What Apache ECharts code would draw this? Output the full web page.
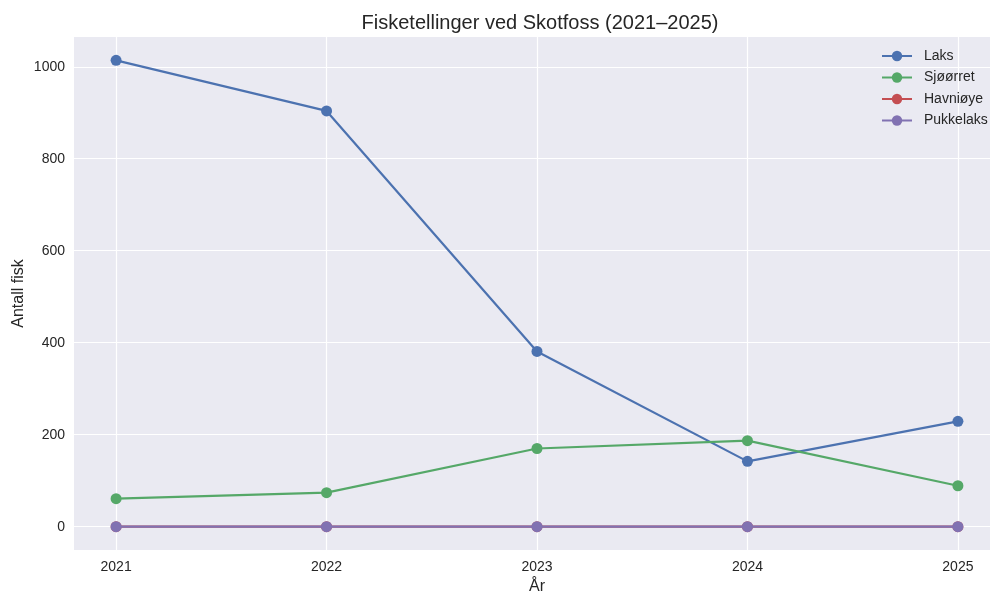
<!DOCTYPE html>
<html><head><meta charset="utf-8">
<script src="https://cdn.jsdelivr.net/npm/echarts@6/dist/echarts.min.js"></script>
<style>html,body{margin:0;padding:0;background:#fff}#c{width:990px;height:594px}</style>
</head><body><div id="c"></div>
<script>
const years = [2021, 2022, 2023, 2024, 2025];
const laks = [1014, 904, 381, 142, 229];
const sjoorret = [61, 74, 170, 187, 89];
const havnioye = [0, 0, 0, 0, 0];
const pukkelaks = [0, 0, 0, 0, 0];
const yTicks = [0, 200, 400, 600, 800, 1000];
const seriesNames = ['Laks', 'Sjøørret', 'Havniøye', 'Pukkelaks'];
const colors = ['#4C72B0', '#55A868', '#C44E52', '#8172B2'];
const allData = [laks, sjoorret, havnioye, pukkelaks];

const chart = echarts.init(document.getElementById('c'));
const font = 'Liberation Sans, Arial, sans-serif';
chart.setOption({
  animation: false,
  backgroundColor: '#fff',
  color: colors,
  title: {
    text: 'Fisketellinger ved Skotfoss (2021–2025)',
    left: 535, top: 8, textAlign: 'center',
    textStyle: {fontFamily: font, fontSize: 20, fontWeight: 'normal', color: '#262626'}
  },
  legend: {
    orient: 'vertical', left: 876, top: 44, itemGap: 7.5,
    itemWidth: 30, itemHeight: 13,
    textStyle: {fontFamily: font, fontSize: 14, color: '#262626', padding: [0, 0, 0, 7]},
    data: seriesNames
  },
  grid: {left: 74, top: 37, width: 926, height: 513, containLabel: false,
    outerBoundsMode: 'none',
    show: true, backgroundColor: '#EAEAF2', borderWidth: 0},
  xAxis: {
    type: 'value', min: 2020.8, max: 2025.2,
    name: 'År', nameLocation: 'middle', nameGap: 29, nameMoveOverlap: false,
    nameTextStyle: {fontFamily: font, fontSize: 16, color: '#262626'},
    axisLine: {show: false},
    axisTick: {show: false, customValues: years},
    axisLabel: {customValues: years, fontFamily: font, fontSize: 14, color: '#262626', margin: 10,
      formatter: v => String(Math.round(v))},
    splitLine: {show: true, lineStyle: {color: '#fff', width: 1.2}}
  },
  yAxis: {
    type: 'value', min: -50.7, max: 1064.7,
    name: 'Antall fisk', nameLocation: 'middle', nameGap: 47, nameMoveOverlap: false,
    nameTextStyle: {fontFamily: font, fontSize: 16, color: '#262626'},
    axisLine: {show: false},
    axisTick: {show: false, customValues: yTicks},
    axisLabel: {customValues: yTicks, fontFamily: font, fontSize: 14, color: '#262626', margin: 9,
      formatter: v => String(Math.round(v))},
    splitLine: {show: true, lineStyle: {color: '#fff', width: 1.2}}
  },
  series: seriesNames.map((n, i) => ({
    name: n, type: 'line',
    data: years.map((y, j) => [y, allData[i][j]]),
    symbol: 'circle', symbolSize: 11,
    lineStyle: {width: 2.2, color: colors[i]},
    itemStyle: {color: colors[i]},
    z: 2 + i
  }))
});
</script></body></html>
